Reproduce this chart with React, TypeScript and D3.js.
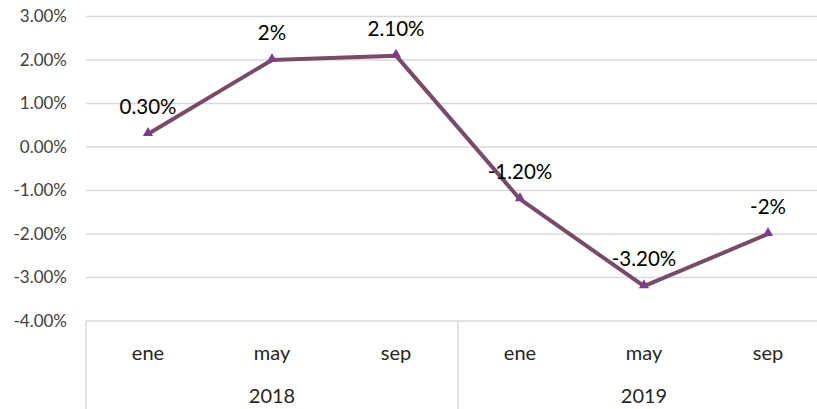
import React from 'react'
import * as d3 from 'd3'

const months = ['ene', 'may', 'sep', 'ene', 'may', 'sep']
const years = ['2018', '2019']
const values = [0.3, 2, 2.1, -1.2, -3.2, -2]
const labels = ['0.30%', '2%', '2.10%', '-1.20%', '-3.20%', '-2%']
const yTicks = [3, 2, 1, 0, -1, -2, -3, -4]

const W = 817
const H = 409
const font = 'Lato, "Open Sans", sans-serif'

export default function App() {
    const left = 86
    const step = 124
    const x = d3.scaleBand<number>().domain(d3.range(months.length)).range([left, left + step * months.length])
    const y = d3.scaleLinear().domain([-4, 3]).range([321, 16.5])
    const cx = (i: number) => (x(i) as number) + x.bandwidth() / 2
    const line = d3.line<number>().x((d, i) => cx(i)).y(d => y(d))
    const tri = d3.symbol().type(d3.symbolTriangle).size(45)()
    const bottom = y(-4)

    return (
        <svg width={W} height={H} style={{ position: 'absolute', left: 0, top: 0, background: '#fff' }}>
            {yTicks.map(t =>
                <g key={t}>
                    <line x1={left} x2={left + step * 6} y1={y(t)} y2={y(t)} stroke="#d9d9d9" strokeWidth={1.5} />
                    <text x={67} y={y(t)} dy="0.35em" textAnchor="end" fontFamily={font} fontSize={17} fill="#404040">{t.toFixed(2) + '%'}</text>
                </g>
            )}
            {[0, 3].map(i =>
                <line key={i} x1={x(i)} x2={x(i)} y1={bottom} y2={H} stroke="#d9d9d9" strokeWidth={1.5} />
            )}
            {months.map((m, i) =>
                <text key={i} x={cx(i)} y={353} dy="0.35em" textAnchor="middle" fontFamily={font} fontSize={20} fill="#262626">{m}</text>
            )}
            {years.map((yr, j) =>
                <text key={yr} x={(x(j * 3) as number) + step * 1.5} y={396} dy="0.35em" textAnchor="middle" fontFamily={font} fontSize={20} fill="#262626">{yr}</text>
            )}
            <path d={line(values) as string} fill="none" stroke="#7a4b66" strokeWidth={4} strokeLinejoin="round" />
            {values.map((v, i) =>
                <path key={i} d={tri as string} transform={`translate(${cx(i)},${y(v) - 1})`} fill="#7d3c8c" />
            )}
            {values.map((v, i) =>
                <text key={i} x={cx(i)} y={y(v) - 27} dy="0.35em" textAnchor="middle" fontFamily={font} fontSize={20.5} fill="#000">{labels[i]}</text>
            )}
        </svg>
    )
}
